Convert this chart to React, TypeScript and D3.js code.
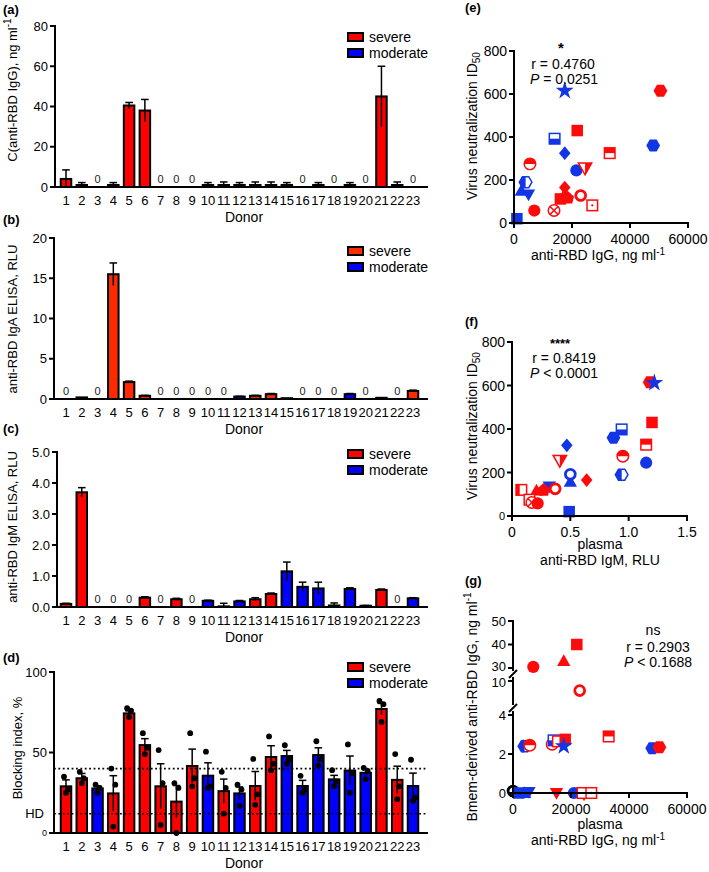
import React from 'react';
import * as d3 from 'd3';

const FONT = '"Liberation Sans", Arial, Helvetica, sans-serif';
const RED = '#ff0000';
const ORANGE = '#ff2a00';
const BLUE = '#0000ff';
const SR = '#ff0a0a';
const SB = '#1236e6';
const BK = '#000000';

const donors = d3.range(1, 24);
const severity = ['S','S','M','S','S','S','S','S','S','M','S','M','S','S','M','M','M','M','M','M','S','S','M'];
const severityB = ['S','S','M','S','S','S','S','S','S','M','S','M','S','S','M','M','M','M','M','M','S','S','S'];

// (a) anti-RBD IgG concentration
const aTicks = [0, 20, 40, 60, 80];
const aValues = [4, 1, 0, 1, 40.5, 38, 0, 0, 0, 1, 1, 1, 1, 1, 1, 0, 1, 0, 1, 0, 45, 1, 0];
const aErrors = [4.5, 1.2, 0, 1.2, 1.5, 5.5, 0, 0, 0, 1.2, 1.5, 1.2, 1.5, 1.5, 1.2, 0, 1.2, 0, 1.2, 0, 15, 1.5, 0];
const aZeroLabels = [3, 7, 8, 9, 16, 18, 20, 23];

// (b) IgA ELISA
const bTicks = [0, 5, 10, 15, 20];
const bValues = [0, 0.2, 0, 15.5, 2.1, 0.4, 0, 0, 0, 0, 0, 0.3, 0.4, 0.6, 0.1, 0, 0, 0, 0.6, 0, 0.15, 0, 1.0];
const bErrors = [0, 0, 0, 1.4, 0.12, 0.05, 0, 0, 0, 0, 0, 0.04, 0.05, 0.08, 0, 0, 0, 0, 0.08, 0, 0, 0, 0.1];
const bZeroLabels = [1, 3, 7, 8, 9, 10, 11, 16, 17, 18, 20, 22];

// (c) IgM ELISA
const cTicks = [0, 1, 2, 3, 4, 5];
const cValues = [0.1, 3.7, 0, 0, 0, 0.3, 0, 0.25, 0, 0.2, 0.02, 0.18, 0.25, 0.42, 1.15, 0.65, 0.6, 0.05, 0.58, 0.04, 0.55, 0, 0.28];
const cErrors = [0.02, 0.15, 0, 0, 0, 0.03, 0, 0.03, 0, 0.02, 0.1, 0.03, 0.05, 0.03, 0.3, 0.15, 0.2, 0.08, 0.04, 0.01, 0.03, 0, 0.02];
const cZeroLabels = [3, 4, 5, 7, 9, 22];

// (d) Blocking index
const dTicks = [0, 50, 100];
const dValues = [29, 34, 27.7, 24.6, 74.3, 54.6, 29, 19.5, 41.6, 35.6, 26, 24.6, 29.2, 47.2, 47.8, 29.2, 48.4, 33.3, 38.8, 37.4, 77, 33, 29.2];
const dErrors = [4, 3, 1.5, 11, 1.5, 4, 14, 10, 10.5, 8, 7.5, 4, 9, 7, 3.5, 3.5, 4.5, 2.5, 9, 2, 3.5, 8.5, 8];
const dDots = [
  [35, 27, 25], [38, 34, 31], [30, 28, 25], [40, 30, 4], [77.5, 76, 72],
  [62, 53, 49], [51.5, 31, 5], [31, 28, 0], [62, 34, 29], [50.5, 29, 28],
  [38, 28, 12], [30, 27, 17], [46, 24, 17.5], [60, 43, 39], [54.5, 46, 43],
  [35.5, 27, 25], [57, 46, 42], [39, 32, 29], [55, 37, 25], [40.5, 38.5, 33.5],
  [82, 80, 69], [49, 29, 21], [45.5, 22, 20],
];
const dRefLines = [40, 12];

// (e) scatter: [anti-RBD IgG ng/ml, ID50, shape, color]
const ePoints: [number, number, string, string][] = [
  [17500, 615, 'star', SB], [50500, 615, 'hexagon', SR], [14000, 392, 'halfSquareBottom', SB],
  [21800, 430, 'square', SR], [48000, 360, 'hexagon', SB], [33000, 325, 'halfSquareTop', SR],
  [17500, 325, 'diamond', SB], [5500, 275, 'halfCircleTop', SR], [21500, 245, 'circle', SB],
  [24500, 255, 'halfTriDownRight', SR], [4000, 190, 'halfHexLeft', SB], [2500, 150, 'triangle', SB],
  [5000, 132, 'triDown', SB], [17500, 165, 'diamond', SR], [17000, 122, 'triangle', SR],
  [16000, 112, 'square', SR], [18500, 118, 'house', SR], [23000, 128, 'ring', SR],
  [27000, 82, 'dotSquare', SR], [13800, 58, 'crossCircle', SR], [7000, 58, 'circle', SR],
  [1000, 20, 'square', SB],
];
const eXTicks = [0, 20000, 40000, 60000];
const eYTicks = [0, 200, 400, 600, 800];

// (f) scatter: [IgM RLU, ID50, shape, color]
const fPoints: [number, number, string, string][] = [
  [1.18, 615, 'hexagon', SR], [1.22, 612, 'star', SB], [1.2, 430, 'square', SR],
  [0.94, 398, 'halfSquareBottom', SB], [0.87, 360, 'hexagon', SB], [1.15, 328, 'halfSquareTop', SR],
  [0.47, 325, 'diamond', SB], [0.95, 275, 'halfCircleTop', SR], [1.15, 245, 'circle', SB],
  [0.41, 255, 'halfTriDownRight', SR], [0.94, 190, 'halfHexLeft', SB], [0.5, 158, 'triangle', SB],
  [0.5, 192, 'ring', SB], [0.64, 165, 'diamond', SR], [0.32, 135, 'triDown', SB],
  [0.37, 125, 'ring', SR], [0.21, 118, 'triangle', SR], [0.27, 120, 'house', SR],
  [0.08, 120, 'halfSquareLeft', SR], [0.15, 75, 'dotSquare', SR], [0.17, 62, 'crossCircle', SR],
  [0.22, 58, 'circle', SR], [0.49, 20, 'square', SB],
];
const fXTicks = [0, 0.5, 1.0, 1.5];
const fYTicks = [0, 200, 400, 600, 800];

// (g) scatter: [plasma IgG ng/ml, Bmem IgG ng/ml, shape, color]
const gPoints: [number, number, string, string][] = [
  [22000, 40, 'square', SR], [17500, 33, 'triangle', SR], [7000, 30.5, 'circle', SR],
  [23000, 8, 'ring', SR], [33000, 2.9, 'halfSquareTop', SR], [48000, 2.3, 'hexagon', SB],
  [50500, 2.35, 'hexagon', SR], [3500, 2.4, 'diamond', SB], [4000, 2.4, 'halfHexLeft', SB],
  [5800, 2.45, 'halfCircleTop', SR], [13500, 2.5, 'openCircle', SR], [14000, 2.7, 'halfSquareBottom', SB],
  [15500, 2.65, 'openSquare', SR], [18000, 2.75, 'square', SR], [17500, 2.4, 'star', SB],
  [0, 0.1, 'ring', BK], [2000, 0, 'square', SB], [4000, 0, 'triangle', SB],
  [5500, 0.05, 'triDown', SB], [15000, 0, 'triDown', SR], [21000, 0, 'circle', SB],
  [24500, 0, 'halfTriDownRight', SR], [24000, 0, 'openSquare', SR], [27000, 0, 'dotSquare', SR],
];
const gXTicks = [0, 20000, 40000, 60000];
const gSegments = [
  { domain: [0, 4], ticks: [0, 2, 4] },
  { domain: [5, 10], ticks: [10] },
  { domain: [30, 50], ticks: [30, 40, 50] },
];

// ---------- markers ----------
const hexPts = (r: number) => d3.range(6).map(k => [r * Math.cos(k * Math.PI / 3), r * Math.sin(k * Math.PI / 3)]);
const pts = (a: number[][]) => a.map(p => p.join(',')).join(' ');

function Marker({ shape, color, cx, cy }: { shape: string; color: string; cx: number; cy: number }) {
  const sw = 1.3;
  let el: React.ReactNode = null;
  const tri = [[0, -5.8], [5.8, 4.4], [-5.8, 4.4]];
  const triD = [[0, 5.8], [5.8, -4.4], [-5.8, -4.4]];
  switch (shape) {
    case 'circle': el = <circle r={5.3} fill={color} />; break;
    case 'ring': el = <circle r={4.3} fill="#fff" stroke={color} strokeWidth={2.4} />; break;
    case 'openCircle': el = <circle r={5} fill="#fff" stroke={color} strokeWidth={sw} />; break;
    case 'crossCircle': el = <g><circle r={5} fill="#fff" stroke={color} strokeWidth={sw} />
      <path d="M-3.5,-3.5L3.5,3.5M-3.5,3.5L3.5,-3.5" stroke={color} strokeWidth={sw} /></g>; break;
    case 'square': el = <rect x={-5} y={-5} width={10} height={10} fill={color} />; break;
    case 'openSquare': el = <rect x={-4.6} y={-4.6} width={9.2} height={9.2} fill="#fff" stroke={color} strokeWidth={sw} />; break;
    case 'dotSquare': el = <g><rect x={-4.6} y={-4.6} width={9.2} height={9.2} fill="#fff" stroke={color} strokeWidth={sw} />
      <circle r={1} fill={color} /></g>; break;
    case 'halfSquareTop': el = <g><rect x={-4.6} y={-4.6} width={9.2} height={9.2} fill="#fff" stroke={color} strokeWidth={sw} />
      <rect x={-4.6} y={-4.6} width={9.2} height={4.6} fill={color} /></g>; break;
    case 'halfSquareBottom': el = <g><rect x={-4.6} y={-4.6} width={9.2} height={9.2} fill="#fff" stroke={color} strokeWidth={sw} />
      <rect x={-4.6} y={0} width={9.2} height={4.6} fill={color} /></g>; break;
    case 'halfSquareLeft': el = <g><rect x={-4.6} y={-4.6} width={9.2} height={9.2} fill="#fff" stroke={color} strokeWidth={sw} />
      <rect x={-4.6} y={-4.6} width={3.2} height={9.2} fill={color} /></g>; break;
    case 'triangle': el = <polygon points={pts(tri)} fill={color} />; break;
    case 'triDown': el = <polygon points={pts(triD)} fill={color} />; break;
    case 'halfTriDownRight': el = <g><polygon points={pts(triD)} fill="#fff" stroke={color} strokeWidth={sw} />
      <polygon points={pts([[0, 5.8], [5.8, -4.4], [0, -4.4]])} fill={color} /></g>; break;
    case 'diamond': el = <polygon points={pts([[0, -6], [5, 0], [0, 6], [-5, 0]])} fill={color} />; break;
    case 'hexagon': el = <polygon points={pts(hexPts(6))} fill={color} />; break;
    case 'halfHexLeft': {
      const h = hexPts(5.5);
      el = <g><polygon points={pts(h)} fill="#fff" stroke={color} strokeWidth={sw} />
        <polygon points={pts([h[2], h[3], h[4], [0, h[4][1]], [0, h[2][1]]])} fill={color} /></g>;
      break;
    }
    case 'halfCircleTop': el = <g><circle r={5} fill="#fff" stroke={color} strokeWidth={sw} />
      <path d="M-5,0A5,5 0 0 1 5,0Z" fill={color} /></g>; break;
    case 'star': el = <path d={d3.symbol(d3.symbolStar, 75)() || ''} fill={color} />; break;
    case 'house': el = <polygon points={pts([[0, -6], [5.5, -1], [4, 5], [-4, 5], [-5.5, -1]])} fill={color} />; break;
  }
  return <g transform={`translate(${cx},${cy}) scale(1.15)`}>{el}</g>;
}

// ---------- bar panel ----------
type BarProps = {
  tag: string; tagY: number; y0: number; y1: number; axisX: number; max: number;
  ticks: number[]; fmt: (v: number) => string; values: number[]; errors: number[];
  zeroLabels: number[]; groups: string[]; severeColor: string; dots?: number[][];
  ylabel: React.ReactNode; ylabelX: number; ylabelY: number; legendY: number;
  refLines?: number[]; smallZero?: boolean;
};

function BarPanel(p: BarProps) {
  const x = d3.scalePoint<number>().domain(donors).range([66, 413]);
  const y = d3.scaleLinear().domain([0, p.max]).range([p.y0, p.y1]);
  const bw = 10.5;
  const col = (i: number) => (p.groups[i] === 'S' ? p.severeColor : BLUE);
  return (
    <g>
      <text x={3} y={p.tagY} fontWeight="bold" fontSize={13}>{p.tag}</text>
      {p.values.map((v, i) => v > 0 ? (
        <rect key={'b' + i} x={(x(donors[i]) as number) - bw / 2} y={y(v)} width={bw}
          height={Math.max(0, p.y0 - y(v))} fill={col(i)} stroke="#000" strokeWidth={2} />
      ) : null)}
      {p.values.map((v, i) => {
        const e = p.errors[i];
        if (!(e > 0)) return null;
        const cx = x(donors[i]) as number;
        return (
          <g key={'e' + i} stroke="#000" strokeWidth={1.5}>
            <line x1={cx} x2={cx} y1={y(Math.max(0, v - e))} y2={y(v + e)} />
            <line x1={cx - 3.8} x2={cx + 3.8} y1={y(v + e)} y2={y(v + e)} />
          </g>
        );
      })}
      {p.dots && p.dots.map((ds, i) => ds.map((d, k) => (
        <circle key={'d' + i + '_' + k} cx={(x(donors[i]) as number) + [-2, 2, 0][k]} cy={y(d)} r={2.9} fill="#000" />
      )))}
      {p.refLines && p.refLines.map((r, i) => (
        <line key={'r' + i} x1={p.axisX} x2={428} y1={y(r)} y2={y(r)} stroke="#000" strokeWidth={1.6} strokeDasharray="1.8,2.6" />
      ))}
      {p.zeroLabels.map(d => (
        <text key={'z' + d} x={x(d) as number} y={p.y0 - 4} fontSize={11} fill="#222" textAnchor="middle">0</text>
      ))}
      <line x1={p.axisX} x2={p.axisX} y1={y(p.max) - 1} y2={p.y0 + 1} stroke="#000" strokeWidth={2} />
      <line x1={p.axisX - 1} x2={428} y1={p.y0} y2={p.y0} stroke="#000" strokeWidth={2} />
      {p.ticks.map(t => (
        <g key={'t' + t}>
          <line x1={p.axisX - 5} x2={p.axisX} y1={y(t)} y2={y(t)} stroke="#000" strokeWidth={2} />
          <text x={p.axisX - 7} y={y(t)} textAnchor="end" dominantBaseline="central"
            fontSize={p.smallZero && t === 0 ? 9 : 13}>{p.fmt(t)}</text>
        </g>
      ))}
      {donors.map(d => (
        <text key={'x' + d} x={x(d) as number} y={p.y0 + 18} fontSize={13} textAnchor="middle">{d}</text>
      ))}
      <text x={244} y={p.y0 + 35} fontSize={14} textAnchor="middle">Donor</text>
      <g transform={`translate(${p.ylabelX},${p.ylabelY}) rotate(-90)`}>
        <text textAnchor="middle" dominantBaseline="central" fontSize={13}>{p.ylabel}</text>
      </g>
      {[['severe', p.severeColor], ['moderate', BLUE]].map(([lab, c], k) => (
        <g key={lab} transform={`translate(0,${p.legendY + k * 16})`}>
          <rect x={348} y={-4} width={15} height={8} fill={c} stroke="#000" strokeWidth={2} />
          <text x={369} y={0} fontSize={14} dominantBaseline="central">{lab}</text>
        </g>
      ))}
    </g>
  );
}

// ---------- scatter helpers ----------
function XAxis({ scale, y, ticks, fmt }: { scale: d3.ScaleLinear<number, number>; y: number; ticks: number[]; fmt: (v: number) => string }) {
  const r = scale.range();
  return (
    <g>
      <line x1={r[0] - 1} x2={r[1] + 1} y1={y} y2={y} stroke="#000" strokeWidth={2} />
      {ticks.map(t => (
        <g key={t}>
          <line x1={scale(t)} x2={scale(t)} y1={y} y2={y + 5} stroke="#000" strokeWidth={2} />
          <text x={scale(t)} y={y + 21} fontSize={14} textAnchor="middle">{fmt(t)}</text>
        </g>
      ))}
    </g>
  );
}

function YAxis({ scale, x, ticks, smallZero }: { scale: d3.ScaleLinear<number, number>; x: number; ticks: number[]; smallZero?: boolean }) {
  const r = scale.range();
  return (
    <g>
      <line x1={x} x2={x} y1={r[1] - 1} y2={r[0] + 1} stroke="#000" strokeWidth={2} />
      {ticks.map(t => (
        <g key={t}>
          <line x1={x - 5} x2={x} y1={scale(t)} y2={scale(t)} stroke="#000" strokeWidth={2} />
          <text x={x - 7} y={scale(t)} fontSize={smallZero && t === 0 ? 11 : 14} textAnchor="end" dominantBaseline="central">{t}</text>
        </g>
      ))}
    </g>
  );
}

function RotLabel({ x, y, children }: { x: number; y: number; children: React.ReactNode }) {
  return (
    <g transform={`translate(${x},${y}) rotate(-90)`}>
      <text textAnchor="middle" dominantBaseline="central" fontSize={14}>{children}</text>
    </g>
  );
}

const Sup = ({ t }: { t: string }) => <tspan dy={-5} fontSize={10}>{t}</tspan>;
const Sub = ({ t }: { t: string }) => <tspan dy={4} fontSize={10}>{t}</tspan>;

export default function App() {
  // (e)
  const ex = d3.scaleLinear().domain([0, 60000]).range([514, 688]);
  const ey = d3.scaleLinear().domain([0, 800]).range([223, 51]);
  // (f)
  const fx = d3.scaleLinear().domain([0, 1.5]).range([512, 687]);
  const fy = d3.scaleLinear().domain([0, 800]).range([516, 342]);
  // (g)
  const gx = d3.scaleLinear().domain([0, 60000]).range([513, 687]);
  const gRanges = [[793, 715], [705, 681], [668, 621]];
  const gScales = gSegments.map((s, i) => d3.scaleLinear().domain(s.domain).range(gRanges[i]));
  const gy = (v: number) => (v >= gSegments[2].domain[0] ? gScales[2](v) : v >= gSegments[1].domain[0] - 1 ? gScales[1](v) : gScales[0](v));
  const gAxisX = 513;
  const gLines = [[793, 711], [705, 677], [671, 620]];
  const gBreaks = [708, 674];
  const gLabelNudge: Record<number, number> = { 30: -1.5, 10: 1.5 };
  const intFmt = (v: number) => String(v);
  const fFmt = (v: number) => (v === 0 ? '0' : d3.format('.1f')(v));

  return (
    <svg width={709} height={872} style={{ position: 'absolute', left: 0, top: 0, background: '#fff' }}
      fontFamily={FONT} xmlns="http://www.w3.org/2000/svg">
      <rect width={709} height={872} fill="#fff" />
      <BarPanel tag="(a)" tagY={14} y0={187} y1={26} axisX={55} max={80} ticks={aTicks} fmt={intFmt}
        values={aValues} errors={aErrors} zeroLabels={aZeroLabels} groups={severity} severeColor={RED}
        ylabel={<>C(anti-RBD IgG), ng ml<Sup t="-1" /></>} ylabelX={12} ylabelY={90} legendY={37} />
      <BarPanel tag="(b)" tagY={224} y0={399} y1={238} axisX={54} max={20} ticks={bTicks} fmt={intFmt}
        values={bValues} errors={bErrors} zeroLabels={bZeroLabels} groups={severityB} severeColor={ORANGE}
        ylabel={<>anti-RBD IgA ELISA, RLU</>} ylabelX={12} ylabelY={319} legendY={251} />
      <BarPanel tag="(c)" tagY={433} y0={607} y1={452} axisX={57} max={5} ticks={cTicks} fmt={d3.format('.1f')}
        values={cValues} errors={cErrors} zeroLabels={cZeroLabels} groups={severity} severeColor={RED}
        ylabel={<>anti-RBD IgM ELISA, RLU</>} ylabelX={12} ylabelY={527} legendY={454} />
      <BarPanel tag="(d)" tagY={662} y0={833} y1={672} axisX={54} max={100} ticks={dTicks} fmt={intFmt}
        values={dValues} errors={dErrors} zeroLabels={[]} groups={severity} severeColor={RED} dots={dDots}
        ylabel={<>Blocking index, %</>} ylabelX={17} ylabelY={748} legendY={667} refLines={dRefLines} smallZero />
      <text x={44} y={833 - 12 * 1.61} fontSize={13} textAnchor="end" dominantBaseline="central">HD</text>

      {/* (e) */}
      <text x={465} y={12} fontWeight="bold" fontSize={13}>(e)</text>
      {ePoints.map((p, i) => <Marker key={'e' + i} shape={p[2]} color={p[3]} cx={ex(p[0])} cy={ey(p[1])} />)}
      <XAxis scale={ex} y={223} ticks={eXTicks} fmt={intFmt} />
      <YAxis scale={ey} x={514} ticks={eYTicks} />
      <text x={561} y={53} fontSize={15} fontWeight="bold" textAnchor="middle">*</text>
      <text x={563} y={69} fontSize={14} textAnchor="middle">r = 0.4760</text>
      <text x={564} y={84} fontSize={14} textAnchor="middle"><tspan fontStyle="italic">P</tspan> = 0.0251</text>
      <text x={598} y={260} fontSize={14} textAnchor="middle">anti-RBD IgG, ng ml<Sup t="-1" /></text>
      <RotLabel x={472} y={126}>Virus neutralization ID<Sub t="50" /></RotLabel>

      {/* (f) */}
      <text x={465} y={326} fontWeight="bold" fontSize={13}>(f)</text>
      {fPoints.map((p, i) => <Marker key={'f' + i} shape={p[2]} color={p[3]} cx={fx(p[0])} cy={fy(p[1])} />)}
      <XAxis scale={fx} y={516} ticks={fXTicks} fmt={fFmt} />
      <YAxis scale={fy} x={512} ticks={fYTicks} smallZero />
      <text x={560} y={348} fontSize={13} fontWeight="bold" textAnchor="middle">****</text>
      <text x={564} y={363} fontSize={14} textAnchor="middle">r = 0.8419</text>
      <text x={564} y={378} fontSize={14} textAnchor="middle"><tspan fontStyle="italic">P</tspan> &lt; 0.0001</text>
      <text x={600} y={549} fontSize={14} textAnchor="middle">plasma</text>
      <text x={600} y={565} fontSize={14} textAnchor="middle">anti-RBD IgM, RLU</text>
      <RotLabel x={472} y={426}>Virus neutralization ID<Sub t="50" /></RotLabel>

      {/* (g) */}
      <text x={465} y={585} fontWeight="bold" fontSize={13}>(g)</text>
      {gPoints.map((p, i) => <Marker key={'g' + i} shape={p[2]} color={p[3]} cx={gx(p[0])} cy={gy(p[1])} />)}
      <XAxis scale={gx} y={793} ticks={gXTicks} fmt={intFmt} />
      {gLines.map((l, i) => <line key={'gl' + i} x1={gAxisX} x2={gAxisX} y1={l[0]} y2={l[1]} stroke="#000" strokeWidth={2} />)}
      {gBreaks.map((b, i) => <line key={'gb' + i} x1={gAxisX - 4} x2={gAxisX + 4} y1={b + 4} y2={b - 4} stroke="#000" strokeWidth={2} />)}
      {gSegments.map((s, i) => s.ticks.map(t => (
        <g key={'gt' + i + t}>
          <line x1={gAxisX - 5} x2={gAxisX} y1={gScales[i](t)} y2={gScales[i](t)} stroke="#000" strokeWidth={2} />
          <text x={gAxisX - 7} y={gScales[i](t) + (gLabelNudge[t] || 0)} fontSize={13} textAnchor="end" dominantBaseline="central">{t}</text>
        </g>
      )))}
      <text x={653} y={635} fontSize={14} textAnchor="middle">ns</text>
      <text x={658} y={652} fontSize={14} textAnchor="middle">r = 0.2903</text>
      <text x={658} y={667} fontSize={14} textAnchor="middle"><tspan fontStyle="italic">P</tspan> &lt; 0.1688</text>
      <text x={600} y={829} fontSize={14} textAnchor="middle">plasma</text>
      <text x={598} y={845} fontSize={14} textAnchor="middle">anti-RBD IgG, ng ml<Sup t="-1" /></text>
      <RotLabel x={472} y={707}>Bmem-derived anti-RBD IgG, ng ml<Sup t="-1" /></RotLabel>
    </svg>
  );
}
